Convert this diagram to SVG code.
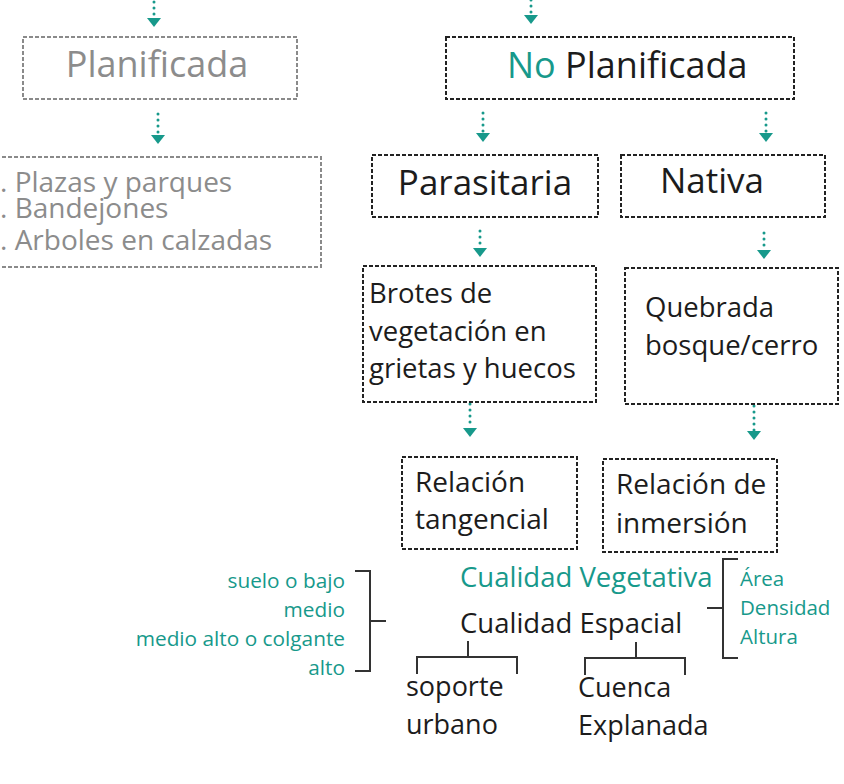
<svg xmlns="http://www.w3.org/2000/svg" width="844" height="784" viewBox="0 0 844 784">
<style>
text{font-family:"Open Sans","Noto Sans","Liberation Sans",sans-serif;}
.box{fill:none;stroke:#222;stroke-width:2;stroke-dasharray:4 2;}
.gbox{fill:none;stroke:#8a8a8a;stroke-width:2;stroke-dasharray:4 2;}
.dot{fill:none;stroke:#17998b;stroke-width:3;stroke-linecap:round;stroke-dasharray:0 6;}
.br{fill:none;stroke:#333;stroke-width:2;}
.k{fill:#1c1c1c;}
.g{fill:#8c8c8c;}
.t{fill:#17998b;}
</style>
<defs>
<marker id="ah" viewBox="0 0 9 14" refX="0" refY="7" markerWidth="9" markerHeight="14" markerUnits="userSpaceOnUse" orient="auto">
<path d="M0,0 L9,7 L0,14 Z" fill="#17998b"/>
</marker>
</defs>
<g id="connectors">
<path class="dot" d="M154,2 L154,18" marker-end="url(#ah)"/>
<path class="dot" d="M158,114 L158,135" marker-end="url(#ah)"/>
<path class="dot" d="M531,0 L531,15" marker-end="url(#ah)"/>
<path class="dot" d="M483,113 L483,133" marker-end="url(#ah)"/>
<path class="dot" d="M766,113 L766,133" marker-end="url(#ah)"/>
<path class="dot" d="M480,231 L480,248" marker-end="url(#ah)"/>
<path class="dot" d="M764,233 L764,250" marker-end="url(#ah)"/>
<path class="dot" d="M470,404 L470,428" marker-end="url(#ah)"/>
<path class="dot" d="M754,406 L754,431" marker-end="url(#ah)"/>
</g>
<g id="planificada">
<rect class="gbox" x="23" y="37" width="274" height="62"/>
<text class="g" x="157" y="77" font-size="36" text-anchor="middle">Planificada</text>
</g>
<g id="lista">
<rect class="gbox" x="-10" y="157" width="331" height="110"/>
<text class="g" x="0" y="192" font-size="28">. Plazas y parques</text>
<text class="g" x="0" y="218" font-size="28">. Bandejones</text>
<text class="g" x="0" y="250" font-size="28">. Arboles en calzadas</text>
</g>
<g id="no-planificada">
<rect class="box" x="446" y="37" width="348" height="62"/>
<text x="507" y="78" font-size="36"><tspan class="t">No</tspan><tspan class="k"> Planificada</tspan></text>
</g>
<g id="parasitaria">
<rect class="box" x="372" y="155" width="226" height="62"/>
<text class="k" x="485" y="195" font-size="35" text-anchor="middle">Parasitaria</text>
</g>
<g id="nativa">
<rect class="box" x="621" y="155" width="204" height="62"/>
<text class="k" x="712" y="193" font-size="35" text-anchor="middle">Nativa</text>
</g>
<g id="brotes">
<rect class="box" x="363" y="266" width="233" height="136"/>
<text class="k" x="369" y="303" font-size="27.5">Brotes de</text>
<text class="k" x="369" y="341" font-size="27.5">vegetación en</text>
<text class="k" x="369" y="378" font-size="27.5">grietas y huecos</text>
</g>
<g id="quebrada">
<rect class="box" x="625" y="268" width="213" height="136"/>
<text class="k" x="645" y="317" font-size="27.5">Quebrada</text>
<text class="k" x="645" y="355" font-size="27.5">bosque/cerro</text>
</g>
<g id="tangencial">
<rect class="box" x="402" y="457" width="175" height="92"/>
<text class="k" x="415" y="492" font-size="28">Relación</text>
<text class="k" x="415" y="529" font-size="28">tangencial</text>
</g>
<g id="inmersion">
<rect class="box" x="603" y="459" width="174" height="93"/>
<text class="k" x="616" y="494" font-size="28">Relación de</text>
<text class="k" x="616" y="533" font-size="28">inmersión</text>
</g>
<g id="cualidad-vegetativa">
<text class="t" x="460" y="587" font-size="27.5">Cualidad Vegetativa</text>
</g>
<g id="cualidad-espacial">
<text class="k" x="460" y="633" font-size="27.5">Cualidad Espacial</text>
</g>
<g id="estratos">
<path class="br" d="M355,571 H370 V671 H355 M370,621 H386"/>
<text class="t" x="345" y="588" font-size="20.8" text-anchor="end">suelo o bajo</text>
<text class="t" x="345" y="617" font-size="20.8" text-anchor="end">medio</text>
<text class="t" x="345" y="646" font-size="20.8" text-anchor="end">medio alto o colgante</text>
<text class="t" x="345" y="675" font-size="20.8" text-anchor="end">alto</text>
</g>
<g id="atributos">
<path class="br" d="M738,559 H723 V658 H738 M707,608 H723"/>
<text class="t" x="740" y="586" font-size="20.5">Área</text>
<text class="t" x="740" y="615" font-size="20.5">Densidad</text>
<text class="t" x="740" y="644" font-size="20.5">Altura</text>
</g>
<g id="soporte">
<path class="br" d="M468,641 V657 M417,674 V657 H517 V674"/>
<text class="k" x="406" y="696" font-size="27">soporte</text>
<text class="k" x="406" y="734" font-size="27">urbano</text>
</g>
<g id="cuenca">
<path class="br" d="M636,642 V658 M585,675 V658 H685 V675"/>
<text class="k" x="578" y="697" font-size="27">Cuenca</text>
<text class="k" x="578" y="735" font-size="27">Explanada</text>
</g>
</svg>
